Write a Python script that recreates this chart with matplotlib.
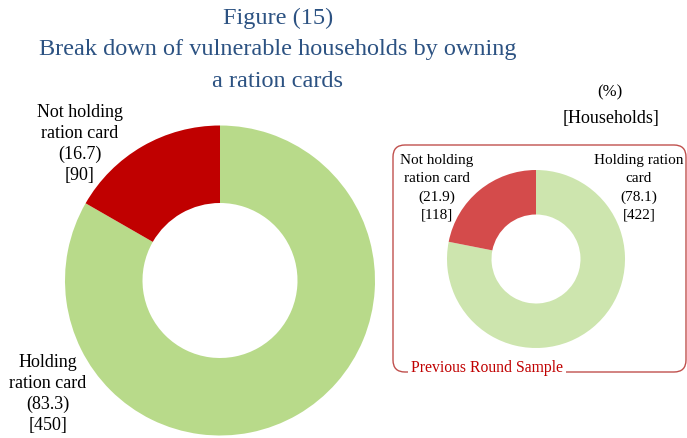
import matplotlib.pyplot as plt
from matplotlib.patches import FancyBboxPatch
from matplotlib.transforms import IdentityTransform

# data
labels = ['Holding\nration card', 'Not holding\nration card']
pct_now = [83.3, 16.7]
hh_now = [450, 90]
pct_prev = [78.1, 21.9]
hh_prev = [422, 118]

W, H = 687, 438
fig = plt.figure(figsize=(W / 100, H / 100), dpi=100)
plt.rcParams['font.family'] = ['Liberation Serif', 'DejaVu Serif']


def fx(x):
    return x / W


def fy(y):
    return 1 - y / H


def donut(cx, cy, r, vals, colors):
    ax = fig.add_axes([fx(cx - r), fy(cy + r), 2 * r / W, 2 * r / H])
    ax.pie(vals, colors=colors, startangle=90, counterclock=False, radius=1,
           wedgeprops=dict(width=0.5, edgecolor='none'))
    ax.set_xlim(-1, 1)
    ax.set_ylim(-1, 1)
    ax.axis('off')
    return ax


# title
title_color = '#2C5282'
for y, line in [(18, 'Figure (15)'),
                (50, 'Break down of vulnerable households by owning'),
                (82, 'a ration cards')]:
    fig.text(fx(278), fy(y), line, ha='center', va='center',
             fontsize=17.5, color=title_color)

fig.text(fx(610), fy(92), '(%)', ha='center', va='center', fontsize=12)
fig.text(fx(611), fy(118), '[Households]', ha='center', va='center', fontsize=13)

# main donut
donut(220, 280.5, 155, pct_now, ['#B8DA8A', '#C00000'])
fig.text(fx(48), fy(394), f'{labels[0]}\n({pct_now[0]})\n[{hh_now[0]}]',
         ha='center', va='center', fontsize=13, linespacing=1.32)
fig.text(fx(80), fy(144), f'{labels[1]}\n({pct_now[1]})\n[{hh_now[1]}]',
         ha='center', va='center', fontsize=13, linespacing=1.32)

# previous round box (pixel coordinates)
box = FancyBboxPatch((393, H - 372), 686 - 393, 372 - 145,
                     boxstyle='round,pad=0,rounding_size=12',
                     transform=IdentityTransform(), facecolor='none',
                     edgecolor='#C0504D', linewidth=1.0)
fig.patches.append(box)
fig.text(fx(487), fy(368), 'Previous Round Sample', ha='center', va='center',
         fontsize=11.3, color='#C00000',
         bbox=dict(facecolor='white', edgecolor='none', pad=2))

donut(536, 259, 89, pct_prev, ['#CDE5AE', '#D44B4B'])
fig.text(fx(437), fy(188), f'{labels[1]}\n({pct_prev[1]})\n[{hh_prev[1]}]',
         ha='center', va='center', fontsize=11, linespacing=1.5)
fig.text(fx(639), fy(188), f'Holding ration\ncard\n({pct_prev[0]})\n[{hh_prev[0]}]',
         ha='center', va='center', fontsize=11, linespacing=1.5)

fig.savefig('out.png', dpi=100)
